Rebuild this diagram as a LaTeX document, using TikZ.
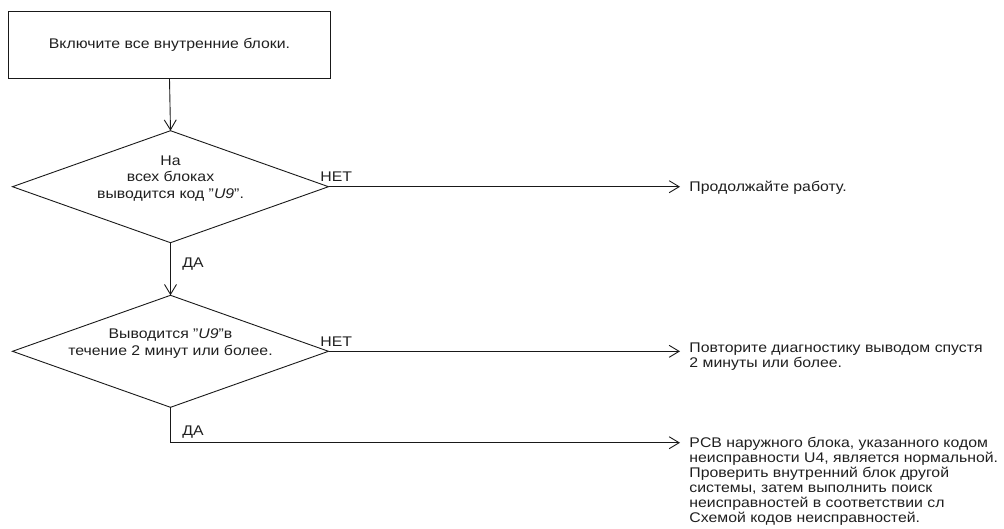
\documentclass[tikz,border=0pt]{standalone}
\usepackage{fontspec}
\setmainfont[FakeStretch=1.13]{Liberation Sans}
\usetikzlibrary{arrows.meta,shapes.geometric}
\newcommand{\segcode}[1]{\textit{#1}}
\begin{document}
\begin{tikzpicture}[x=1pt,y=-1pt,
  line width=0.9pt,
  every node/.style={text=black!88},
  font=\fontsize{14}{15}\selectfont,
  box/.style={draw=black!90, minimum width=322pt, minimum height=67pt, inner sep=0pt, outer sep=0pt},
  decision/.style={draw=black!90, diamond, aspect=2.82, minimum width=316pt, minimum height=112pt, inner sep=0pt, outer sep=0pt},
  question/.style={align=center, inner sep=0pt, font=\fontsize{14}{16.3}\selectfont},
  flow/.style={draw=black!90, -{Straight Barb[length=10pt,width=12pt,line width=0.9pt]}},
  outcome/.style={anchor=base west, align=left, inner sep=0pt},
  answer/.style={anchor=base west, inner sep=0pt},
]
\useasboundingbox (0,0) rectangle (1004,528);

% start box and the two checks
\node[box] (start) at (169.5,45.3) {Включите все внутренние блоки.};
\node[decision] (q1) at (170.5,186.7) {};
\node[question] (q1t) at (170.5,178.5)
  {На\\всех блоках\\выводится код "\segcode{U9}".};
\node[decision] (q2) at (170.5,351.3) {};
\node[question] (q2t) at (170.5,343.5)
  {Выводится "\segcode{U9}"в\\течение 2 минут или более.};

% end points of the outgoing arrows
\coordinate (e1) at (680,186.7);
\coordinate (e2) at (680,351.3);
\coordinate (e3) at (680,442.7);

% results (base = baseline of the last line)
\node[outcome] (r1) at (689,191.5) {Продолжайте работу.};
\node[outcome] (r2) at (689,367.5) {Повторите диагностику выводом спустя\\2 минуты или более.};
\node[outcome] (r3) at (689,522.5) {PCB наружного блока, указанного кодом\\неисправности U4, является нормальной.\\Проверить внутренний блок другой\\системы, затем выполнить поиск\\неисправностей в соответствии сл\\Схемой кодов неисправностей.};

% answers
\node[answer] (n1) at (320,181) {НЕТ};
\node[answer] (n2) at (320,346) {НЕТ};
\node[answer] (y1) at (182,267) {ДА};
\node[answer] (y2) at (182,435) {ДА};

% connectors
\draw[flow] (start.south) -- (q1.north);
\draw[flow] (q1.east) -- (e1);
\draw[flow] (q1.south) -- (q2.north);
\draw[flow] (q2.east) -- (e2);
\draw[flow] (q2.south) |- (e3);
\end{tikzpicture}
\end{document}
